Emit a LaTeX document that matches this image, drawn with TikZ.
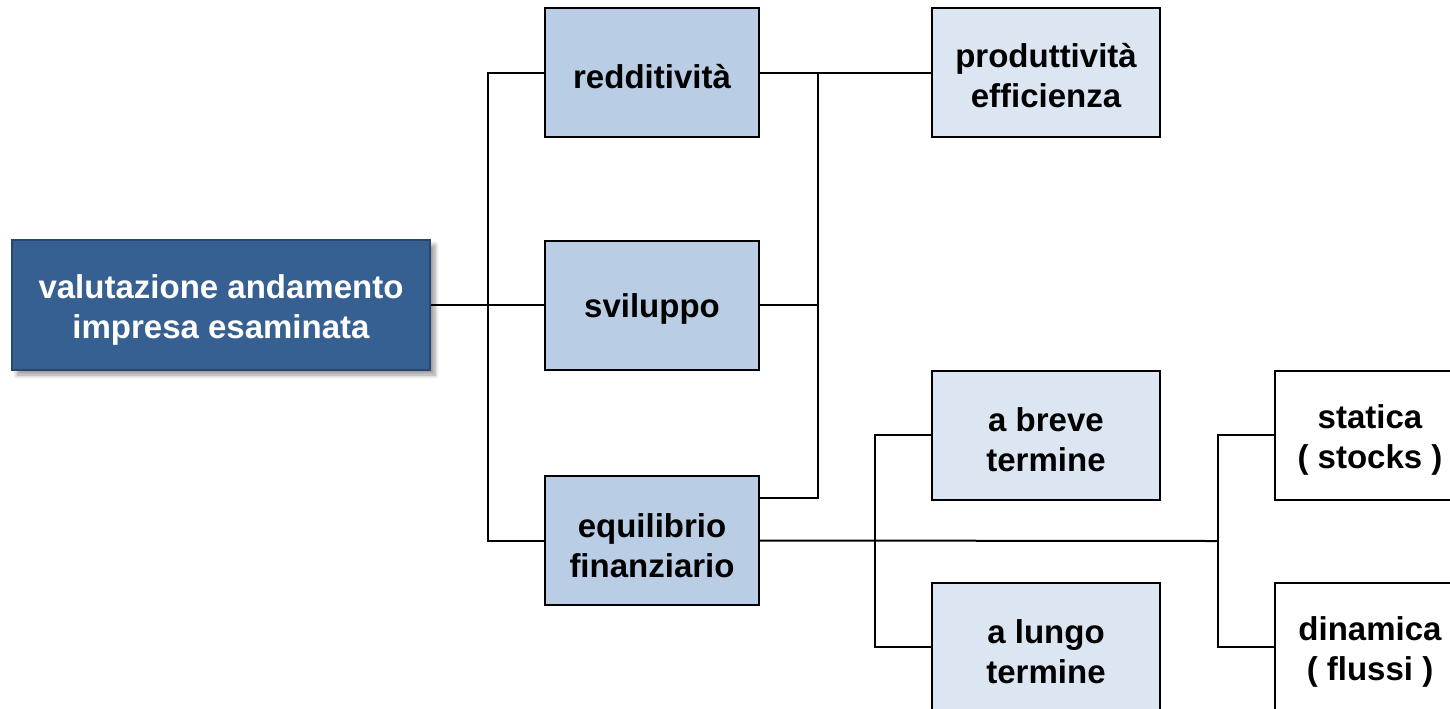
\documentclass[tikz,border=0pt]{standalone}
\usepackage{fontspec}
\setmainfont{Liberation Sans}
\usetikzlibrary{shadows,shadows.blur}
\definecolor{mainblue}{RGB}{55,96,146}
\definecolor{mainedge}{RGB}{40,70,110}
\definecolor{lightblue}{RGB}{185,205,229}
\definecolor{paleblue}{RGB}{220,230,242}
\newcommand\topstrut{\rule{0pt}{17pt}}
\tikzset{
	box/.style={draw=black, line width=1pt, align=center,
		minimum width=107pt, minimum height=64.5pt, inner sep=0pt,
		font=\fontsize{16.5}{20}\selectfont\bfseries,
		drop shadow={shadow xshift=0.7pt, shadow yshift=-0.7pt, fill=black!35, opacity=1}},
	mainbox/.style={draw=mainedge, line width=0.6pt, fill=mainblue, text=white, align=center,
		minimum width=209pt, minimum height=65pt, inner sep=0pt,
		font=\fontsize{16.5}{20}\selectfont\bfseries,
		blur shadow={shadow xshift=2.5pt, shadow yshift=-2.5pt, shadow blur steps=6}},
	lightbox/.style={box, fill=lightblue},
	palebox/.style={box, fill=paleblue, minimum width=114pt},
	plainbox/.style={box, fill=white, minimum width=95pt},
	link/.style={line width=1pt}
}
\begin{document}
\begin{tikzpicture}[x=0.5pt,y=-0.5pt]
	\useasboundingbox (0,0) rectangle (1450,708);
	\clip (0,0) rectangle (1450,708);
	\node[mainbox] (val) at (221,305) {\topstrut valutazione andamento\\impresa esaminata};
	\node[lightbox] (redd) at (652,72.5) {\rule{0pt}{16pt}redditività};
	\node[lightbox] (svil) at (652,305) {\rule{0pt}{16pt}sviluppo};
	\node[lightbox] (equi) at (652,540.5) {\topstrut equilibrio\\finanziario};
	\node[palebox] (prod) at (1046,72.5) {\rule{0pt}{15pt}produttività\\efficienza};
	\node[palebox] (breve) at (1046,435) {\topstrut a breve\\termine};
	\node[palebox] (lungo) at (1046,647) {\topstrut a lungo\\termine};
	\node[plainbox] (stat) at (1370,435) {\topstrut statica\\( stocks )};
	\node[plainbox] (dina) at (1370,647) {\topstrut dinamica\\( flussi )};

	\coordinate (busA) at (488,305);
	\coordinate (busB) at (818,73);
	\coordinate (eqhi) at (760,498);
	\coordinate (busC) at (875,541);
	\coordinate (busD) at (1218,541);

	\draw[link] (val.east) -- (svil.west);
	\draw[link] (redd.west) -| (busA) |- (equi.west);
	\draw[link] (redd.east) -- (prod.west);
	\draw[link] (busB) |- (eqhi);
	\draw[link] (svil.east) -- (svil.east -| busB);
	\draw[link] (equi.east) -- (busD);
	\draw[link] (breve.west) -| (busC) |- (lungo.west);
	\draw[link] (stat.west) -| (busD) |- (dina.west);
\end{tikzpicture}
\end{document}
